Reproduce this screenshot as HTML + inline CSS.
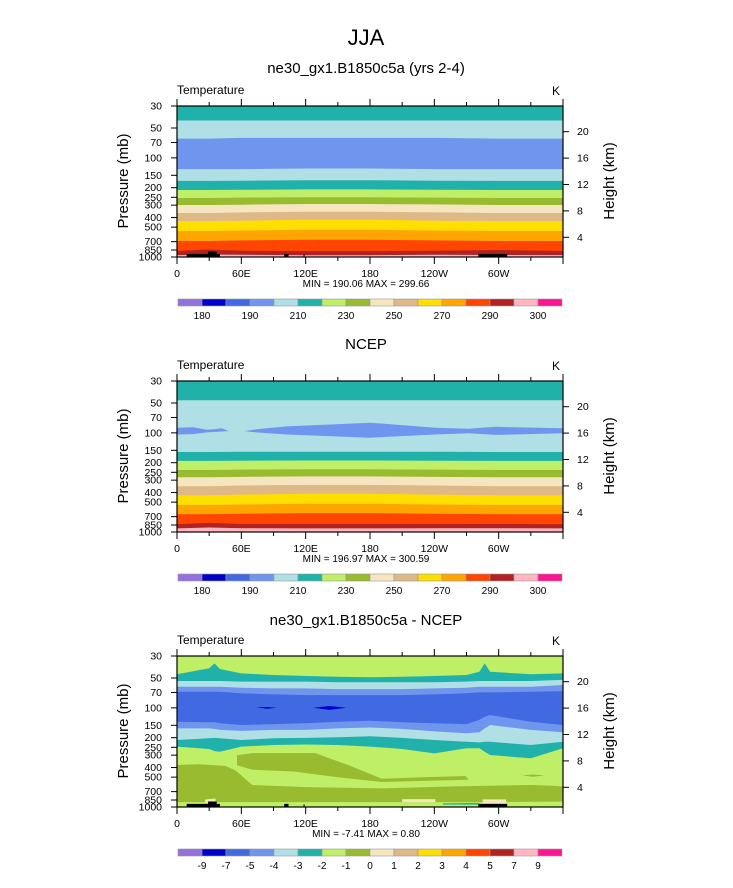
<!DOCTYPE html>
<html><head><meta charset="utf-8">
<style>
html,body{margin:0;padding:0;background:#fff;}
svg{display:block;font-family:"Liberation Sans",Arial,sans-serif;}
</style></head>
<body>
<svg id="chart" width="733" height="888" viewBox="0 0 733 888" xmlns="http://www.w3.org/2000/svg">
<text x="366" y="45" text-anchor="middle" font-size="22">JJA</text>
<g id="panels"></g>
</svg>
<script>
// ---------- data ----------
const colors = ["#9370db","#0000cd","#4169e1","#6f95ee","#b0e0e6","#20b2aa","#bfee67","#98bb30","#f5e6c0","#deb887","#ffdf00","#ffa500","#ff4500","#b22222","#ffb6c1","#ff1493"];
const pressureTicks = [30,50,70,100,150,200,250,300,400,500,700,850,1000];
const heightTicks = [4,8,12,16,20];
const lonTicks = [0,60,120,180,240,300];
const lonLabels = ["0","60E","120E","180","120W","60W"];
const cbLabels1 = ["180","","190","","210","","230","","250","","270","","290","","300"];
const cbLabels3 = ["-9","-7","-5","-4","-3","-2","-1","0","1","2","3","4","5","7","9"];

// Panel 1 (model)
const p1Lons = [0,30,60,120,180,240,300,360];
const p1Colors = [5,4,3,4,5,6,7,8,9,10,11,12,13,14];
const p1Bounds = [
 [42,42,42,42,42,42,42,42],
 [64,64,63,63,63,63,64,64],
 [130,130,130,128,128,130,130,130],
 [171,171,170,168,168,170,171,171],
 [211,211,210,208,208,210,211,211],
 [254,254,252,250,250,252,254,254],
 [299,299,297,292,292,295,299,299],
 [360,360,355,350,350,355,360,360],
 [433,433,430,420,420,430,433,433],
 [547,547,540,530,530,540,547,547],
 [690,690,680,670,670,680,690,690],
 [870,840,865,870,870,865,850,870],
 [957,945,950,960,960,950,955,957]
];
// Panel 2 (NCEP)
const p2Lons = [0,30,60,120,180,240,300,360];
const p2Colors = [5,4,5,6,7,8,9,10,11,12,13,14];
const p2Bounds = [
 [47,47,47,47,47,47,47,47],
 [156,156,155,155,155,155,156,156],
 [192,192,191,190,190,191,192,192],
 [237,237,235,233,233,235,237,237],
 [281,281,278,275,275,278,281,281],
 [346,346,340,335,335,340,346,346],
 [425,425,420,412,412,420,425,425],
 [534,534,528,520,520,528,534,534],
 [661,661,655,645,645,655,661,661],
 [836,810,830,830,830,830,830,836],
 [919,900,915,920,920,915,915,919]
];
const p2BlobALons = [0,15,28,34,42,48];
const p2BlobATop = [88.7,88,93,92,90,96];
const p2BlobBot = [104,103,99,98,97,96];
const p2BlobBLons = [63,74,102,180,241,272,297,360];
const p2BlobBTop = [96,92,86,79,89,91,87,90];
const p2BlobBBot = [96,99,104,112,104,101,105,101];

// Panel 3 (difference)
const p3Lons = [0,30,35,40,60,90,120,150,180,210,240,270,282,287,292,330,360];
const p3Colors = [6,5,4,3,2,3,4,5,6];
const p3Bounds = [
 [45.9,39.9,35.6,40.6,44.9,46.6,47.7,48.5,49.2,48.5,47.7,46.6,43.2,35.6,43.2,45.9,44.9],
 [53.6,53.6,53.6,53.6,54.4,54.4,54.4,55.3,55.3,55.3,55.3,54.4,53.6,53.6,53.6,53.6,52.3],
 [61.2,61.2,61.2,61.2,62.7,63.7,63.7,64.7,64.7,64.7,63.7,62.7,61.2,61.2,61.2,61.2,58.8],
 [68.8,68.8,68.8,68.8,71.4,73.2,74.3,74.3,74.3,74.3,73.2,71.4,69.9,69.9,69.9,68.8,67.8],
 [138,140,140,143,149,146,143,138,135,140,143,146,132,123,118,138,149],
 [161,161,163,167,171,167,167,161,158,163,173,180,176,161,149,167,176],
 [211,203,201,203,211,203,201,198,193,201,211,220,223,220,220,237,220],
 [246,260,273,277,246,237,234,237,246,260,288,256,256,277,299,323,256]
];
// green (-1..0) regions: [lon, pressure]
const p3GreenA = [[56,300],[70,286],[129,286],[160,380],[191,520],[230,500],[269,487],[272,530],[230,545],[191,560],[150,500],[110,440],[70,420],[56,380]];
const p3GreenB = [[0,377],[20,370],[45,385],[55,430],[70,600],[120,630],[191,650],[260,620],[330,600],[350,610],[360,620],[360,880],[300,892],[200,892],[100,892],[0,892]];
const p3GreenC = [[322,480],[332,470],[343,480],[332,495]];
const p3Beige = [[[210,832],[241,832],[241,892],[210,892]],[[285,838],[307,838],[307,920],[285,920]],[[26,840],[36,820],[36,900],[26,900]]];
const p3Teal = [[[248,919],[280,910],[285,945],[248,945]]];
const p3Dark = [[[74,99],[84,98],[93,100],[84,102]],[[127,100],[142,95.8],[158,100],[142,105]]];
// topography (black) [lonStart, lonEnd, pressure top]
const topo = [[9,40,930],[29,37,880],[100,104,930],[118,119,940],[281,308,930]];

const panels = [
 {name:"model",top:106,title:"ne30_gx1.B1850c5a (yrs 2-4)",titleY:73,lons:p1Lons,cols:p1Colors,bounds:p1Bounds,minmax:"MIN = 190.06  MAX = 299.66",cbY:299,cbLabels:cbLabels1,topo:true},
 {name:"ncep",top:381,title:"NCEP",titleY:349,lons:p2Lons,cols:p2Colors,bounds:p2Bounds,minmax:"MIN = 196.97  MAX = 300.59",cbY:574,cbLabels:cbLabels1,topo:false},
 {name:"difference",top:656,title:"ne30_gx1.B1850c5a - NCEP",titleY:625,lons:p3Lons,cols:p3Colors,bounds:p3Bounds,minmax:"MIN =  -7.41  MAX =   0.80",cbY:849,cbLabels:cbLabels3,topo:true}
];

// ---------- drawing ----------
const NS="http://www.w3.org/2000/svg";
const X0=177, W=386, H=151;
function xS(lon){return X0+lon/360*W;}
function yS(p,top){return top+H*Math.log(p/30)/Math.log(1000/30);}
function mk(tag,attrs,parent){const e=document.createElementNS(NS,tag);for(const k in attrs)e.setAttribute(k,attrs[k]);parent.appendChild(e);return e;}
function poly(pts,fill,parent){return mk("polygon",{points:pts.map(p=>p[0].toFixed(1)+","+p[1].toFixed(1)).join(" "),fill:fill},parent);}
const root=document.getElementById("panels");

panels.forEach((P,pi)=>{
 const g=mk("g",{},root);
 
 
 const top=P.top, bot=top+H;
 const clipId="clip"+pi;
 const cp=mk("clipPath",{id:clipId},g); mk("rect",{x:X0,y:top,width:W,height:H},cp);
 const plot=mk("g",{"clip-path":"url(#"+clipId+")"},g);
 
 
 const bg=mk("rect",{x:X0,y:top,width:W,height:H,fill:colors[P.cols[0]]},plot);
 
 
 P.bounds.forEach((b,i)=>{
  const pts=P.lons.map((l,j)=>[xS(l),yS(b[j],top)]);
  pts.push([xS(360),bot+2],[xS(0),bot+2]);
  const pg=poly(pts,colors[P.cols[i+1]],plot);
  
  
 });
 if(pi===1){
  [[p2BlobALons,p2BlobATop,p2BlobBot.slice(0,6)],[p2BlobBLons,p2BlobBTop,p2BlobBBot]].forEach(s=>{
   const pts=s[0].map((l,j)=>[xS(l),yS(s[1][j],top)]);
   for(let j=s[0].length-1;j>=0;j--)pts.push([xS(s[0][j]),yS(s[2][j],top)]);
   const pg=poly(pts,colors[3],plot);
   
   
  });
 }
 if(pi===2){
  [p3GreenA,p3GreenB,p3GreenC].forEach(r=>{
   const pg=poly(r.map(q=>[xS(q[0]),yS(q[1],top)]),colors[7],plot);
   
   
  });
  p3Beige.forEach(r=>{const pg=poly(r.map(q=>[xS(q[0]),yS(q[1],top)]),colors[8],plot);
   
   });
  p3Teal.forEach(r=>{const pg=poly(r.map(q=>[xS(q[0]),yS(q[1],top)]),colors[5],plot);
   
   });
  p3Dark.forEach(r=>{const pg=poly(r.map(q=>[xS(q[0]),yS(q[1],top)]),colors[1],plot);
   
   });
 }
 if(P.topo){
  topo.forEach(t=>{const r=mk("rect",{x:xS(t[0]),y:yS(t[2],top),width:xS(t[1])-xS(t[0]),height:bot-yS(t[2],top),fill:"#000"},plot);
   
   });
 }
 const fr=mk("rect",{x:X0,y:top,width:W,height:H,fill:"none",stroke:"#000","stroke-width":1.2},g);
 
 
 for(let l=0;l<=360;l+=30){
  const len=(l%60===0)?7:4;
  mk("line",{x1:xS(l),x2:xS(l),y1:bot,y2:bot+len,stroke:"#000"},g);
  mk("line",{x1:xS(l),x2:xS(l),y1:top,y2:top-len,stroke:"#000"},g);
 }
 lonTicks.forEach((l,i)=>{const t=mk("text",{x:xS(l),y:bot+20,"text-anchor":"middle","font-size":"10.5"},g);t.textContent=lonLabels[i];
  
  });
 pressureTicks.forEach(p=>{const y=yS(p,top);
  mk("line",{x1:X0-6,x2:X0,y1:y,y2:y,stroke:"#000"},g);
  const t=mk("text",{x:X0-15,y:y+3.5,"text-anchor":"end","font-size":"10.5"},g);t.textContent=p;
  
  });
 heightTicks.forEach(z=>{const y=top+25.7+(20-z)*6.6;
  mk("line",{x1:X0+W,x2:X0+W+6,y1:y,y2:y,stroke:"#000"},g);
  const t=mk("text",{x:X0+W+14,y:y+3.5,"font-size":"10.5"},g);t.textContent=z;
  
  });
 let t=mk("text",{x:366,y:P.titleY,"text-anchor":"middle","font-size":"15"},g);t.textContent=P.title;
 
 
 t=mk("text",{x:X0,y:top-12,"font-size":"12"},g);t.textContent="Temperature";
 
 
 t=mk("text",{x:X0+W-3,y:top-11,"text-anchor":"end","font-size":"12"},g);t.textContent="K";
 
 
 t=mk("text",{x:0,y:0,"text-anchor":"middle","font-size":"15",transform:"translate(128,"+(top+75)+") rotate(-90)"},g);t.textContent="Pressure (mb)";
 
 
 t=mk("text",{x:0,y:0,"text-anchor":"middle","font-size":"15",transform:"translate(614,"+(top+75)+") rotate(-90)"},g);t.textContent="Height (km)";
 
 
 t=mk("text",{x:366,y:bot+30,"text-anchor":"middle","font-size":"10"},g);t.textContent=P.minmax;
 
 
 const cb=mk("g",{},g);
 
 
 colors.forEach((c,i)=>{const r=mk("rect",{x:178+i*24,y:P.cbY,width:24,height:7,fill:c,stroke:"#999","stroke-width":0.6},cb);
  
  });
 P.cbLabels.forEach((s,i)=>{if(!s)return;const tt=mk("text",{x:178+(i+1)*24,y:P.cbY+20,"text-anchor":"middle","font-size":"10"},cb);tt.textContent=s;
  
  });
});
</script>
</body></html>
